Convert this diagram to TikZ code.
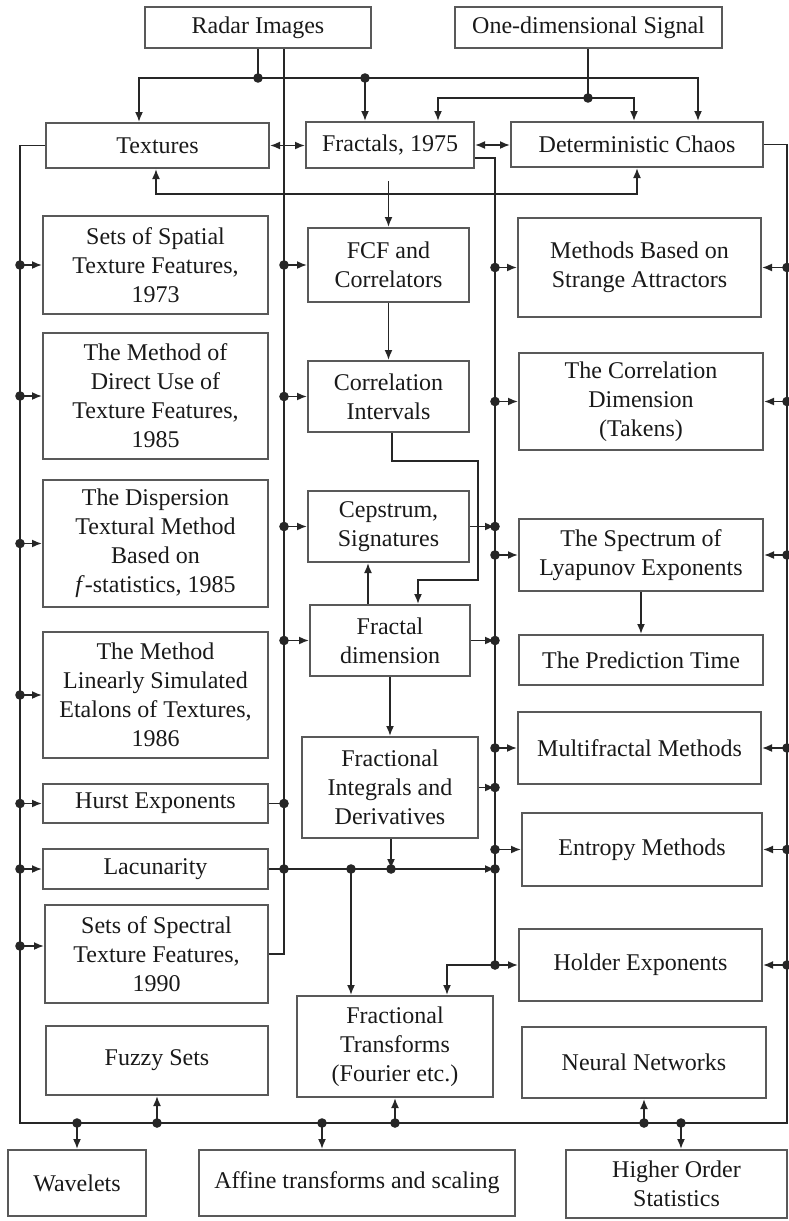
\documentclass[tikz,border=0pt]{standalone}
\usepackage{fontspec}
\setmainfont{Liberation Serif}
\usetikzlibrary{arrows.meta}
\newcommand\jdot[1]{\fill (#1) circle[radius=4.8pt];}
\begin{document}
\begin{tikzpicture}[x=1pt,y=-1pt,
  line width=1.7pt, color=black!85,
  box/.style={draw=black!65, line width=2pt, align=center, inner sep=0pt,
    font=\fontsize{24}{29}\selectfont, text=black!90},
  arr/.style={-{Latex[length=10pt,width=8pt]}},
  darr/.style={{Latex[length=10pt,width=8pt]}-{Latex[length=10pt,width=8pt]}},
]
\useasboundingbox (0,0) rectangle (789,1221);

% ---- boxes ----
\node[box,minimum width=226pt,minimum height=41pt] (radar) at (258,27.5) {Radar Images};
\node[box,minimum width=267pt,minimum height=41pt] (onedim) at (588.5,27.5) {One-dimensional Signal};
\node[box,minimum width=223pt,minimum height=45pt] (textures) at (157.5,145.5) {Textures};
\node[box,minimum width=168pt,minimum height=46pt] (fractals) at (390,145) {Fractals, 1975};
\node[box,minimum width=252pt,minimum height=45pt] (chaos) at (637,144.5) {Deterministic Chaos};
\node[box,minimum width=225pt,minimum height=98pt] (spatial) at (155.5,265) {Sets of Spatial\\Texture Features,\\1973};
\node[box,minimum width=161pt,minimum height=74pt] (fcf) at (388.5,265) {FCF and\\Correlators};
\node[box,minimum width=243pt,minimum height=99pt] (attract) at (639.5,267.5) {Methods Based on\\Strange Attractors};
\node[box,minimum width=225pt,minimum height=126pt] (direct) at (155.5,396) {The Method of\\Direct Use of\\Texture Features,\\1985};
\node[box,minimum width=161pt,minimum height=71pt] (corrint) at (388.5,396.5) {Correlation\\Intervals};
\node[box,minimum width=244pt,minimum height=97pt] (corrdim) at (641,401.5) {The Correlation\\Dimension\\(Takens)};
\node[box,minimum width=225pt,minimum height=127pt] (dispersion) at (155.5,543.5) {The Dispersion\\Textural Method\\Based on\\\textit{f}-statistics, 1985};
\node[box,minimum width=161pt,minimum height=71pt] (cepstrum) at (388.5,526.5) {Cepstrum,\\Signatures};
\node[box,minimum width=244pt,minimum height=72pt] (lyapunov) at (641,555) {The Spectrum of\\Lyapunov Exponents};
\node[box,minimum width=225pt,minimum height=126pt] (linear) at (155.5,695) {The Method\\Linearly Simulated\\Etalons of Textures,\\1986};
\node[box,minimum width=160pt,minimum height=71pt] (fracdim) at (390,640.5) {Fractal\\dimension};
\node[box,minimum width=244pt,minimum height=50pt] (predict) at (641,660) {The Prediction Time};
\node[box,minimum width=243pt,minimum height=72pt] (multi) at (639.5,748) {Multifractal Methods};
\node[box,minimum width=225pt,minimum height=39pt] (hurst) at (155.5,803.5) {Hurst Exponents};
\node[box,minimum width=176pt,minimum height=101pt] (fracint) at (390,787.5) {Fractional\\Integrals and\\Derivatives};
\node[box,minimum width=240pt,minimum height=73pt] (entropy) at (642,849.5) {Entropy Methods};
\node[box,minimum width=225pt,minimum height=40pt] (lacun) at (155.5,869) {Lacunarity};
\node[box,minimum width=223pt,minimum height=98pt] (spectral) at (156.5,954) {Sets of Spectral\\Texture Features,\\1990};
\node[box,minimum width=243pt,minimum height=72pt] (holder) at (640.5,965) {Holder Exponents};
\node[box,minimum width=196pt,minimum height=101pt] (fractrans) at (395,1046.5) {Fractional\\Transforms\\(Fourier etc.)};
\node[box,minimum width=222pt,minimum height=69pt] (fuzzy) at (157,1060.5) {Fuzzy Sets};
\node[box,minimum width=244pt,minimum height=71pt] (neural) at (644,1062.5) {Neural Networks};
\node[box,minimum width=138pt,minimum height=66pt] (wavelets) at (77,1183) {Wavelets};
\node[box,minimum width=316pt,minimum height=66pt] (affine) at (357,1183) {Affine transforms and scaling};
\node[box,minimum width=221pt,minimum height=68pt] (hos) at (676.5,1184) {Higher Order\\Statistics};

% ---- top distribution ----
\coordinate (J1) at (258,78);
\coordinate (J2) at (365,78);
\coordinate (J3) at (588,98);
\coordinate (tn) at ([xshift=-18.5pt]textures.north);
\coordinate (cn) at ([xshift=61pt]chaos.north);
\draw (radar.south) -- (J1);
\draw[arr] (J1) -| (tn);
\draw[arr] (J1) -| (cn);
\draw[arr] (J2) -- (J2 |- fractals.north);
\draw (onedim.south -| J3) -- (J3);
\draw[arr] (J3) -| ([xshift=48pt]fractals.north);
\draw[arr] (J3) -| ([xshift=-3pt]chaos.north);
\jdot{J1} \jdot{J2} \jdot{J3}

\draw[darr] (textures.east) -- (textures.east -| fractals.west);
\draw[darr] (fractals.east) -- (fractals.east -| chaos.west);
\draw[darr] ([xshift=-1.5pt]textures.south) -- ++(0,25) -| (chaos.south);

% ---- outer buses (left and right, joined at the bottom) ----
\coordinate (LB) at (20,1123);
\coordinate (RB) at (787,1123);
\draw (chaos.east) -| (RB) -- (LB) |- (textures.west);

\foreach \b in {spatial,direct,dispersion,linear,hurst,lacun}{
  \draw[arr] (\b.west -| LB) -- (\b.west); \jdot{\b.west -| LB}}
\coordinate (spw) at ([yshift=8pt]spectral.west);
\draw[arr] (spw -| LB) -- (spw); \jdot{spw -| LB}

\foreach \b in {attract,corrdim,lyapunov,multi,entropy,holder}{
  \draw[arr] (\b.east -| RB) -- (\b.east); \jdot{\b.east -| RB}}

% ---- inner left bus from Radar Images ----
\coordinate (ML) at ([xshift=26pt]radar.south);
\draw (ML) |- (spectral.east);
\foreach \b in {fcf,corrint,cepstrum,fracdim}{
  \draw[arr] (\b.west -| ML) -- (\b.west); \jdot{\b.west -| ML}}
\draw (hurst.east) -- (hurst.east -| ML); \jdot{hurst.east -| ML}

% ---- inner right bus from Fractals ----
\coordinate (fre) at ([yshift=-13pt]fractals.east);
\coordinate (MR) at (495,158);
\draw (fre) -- (MR) -- (MR |- holder.west);
\foreach \b in {attract,corrdim,lyapunov,multi,entropy,holder}{
  \draw[arr] (\b.west -| MR) -- (\b.west); \jdot{\b.west -| MR}}
\foreach \b in {cepstrum,fracdim,fracint}{
  \draw[arr] (\b.east) -- (\b.east -| MR); \jdot{\b.east -| MR}}
\draw[arr] (MR |- holder.west) -| ([xshift=52pt]fractrans.north);

% ---- central chain ----
\draw[arr, shorten <=12pt] (fractals.south -| fcf.north) -- (fcf.north);
\draw[arr] (fcf.south) -- (corrint.north);
\draw[arr] ([xshift=3.5pt]corrint.south) -- ++(0,28) -- ++(86,0) -- ++(0,119) -| ([xshift=28pt]fracdim.north);
\coordinate (fdc) at ([xshift=-22pt]fracdim.north);
\draw[arr] (fdc) -- (fdc |- cepstrum.south);
\draw[arr] (fracdim.south) -- (fracint.north);
\draw[arr] (lyapunov.south) -- (predict.north);

% ---- Lacunarity line ----
\coordinate (fil) at ([xshift=1pt]fracint.south);
\coordinate (ftl) at ([xshift=-44pt]fractrans.north);
\draw[arr] (lacun.east) -- (lacun.east -| MR);
\draw[arr] (fil) -- (fil |- lacun.east);
\draw[arr] (lacun.east -| ftl) -- (ftl);
\jdot{lacun.east -| ML} \jdot{lacun.east -| ftl} \jdot{lacun.east -| fil} \jdot{lacun.east -| MR}

% ---- bottom bus ----
\coordinate (af) at ([xshift=-35pt]affine.north);
\coordinate (hn) at ([xshift=4.5pt]hos.north);
\foreach \p in {wavelets.north,af,hn}{
  \draw[arr] (\p |- LB) -- (\p); \jdot{\p |- LB}}
\foreach \p in {fuzzy.south,fractrans.south,neural.south}{
  \draw[arr] (\p |- LB) -- (\p); \jdot{\p |- LB}}
\end{tikzpicture}
\end{document}
